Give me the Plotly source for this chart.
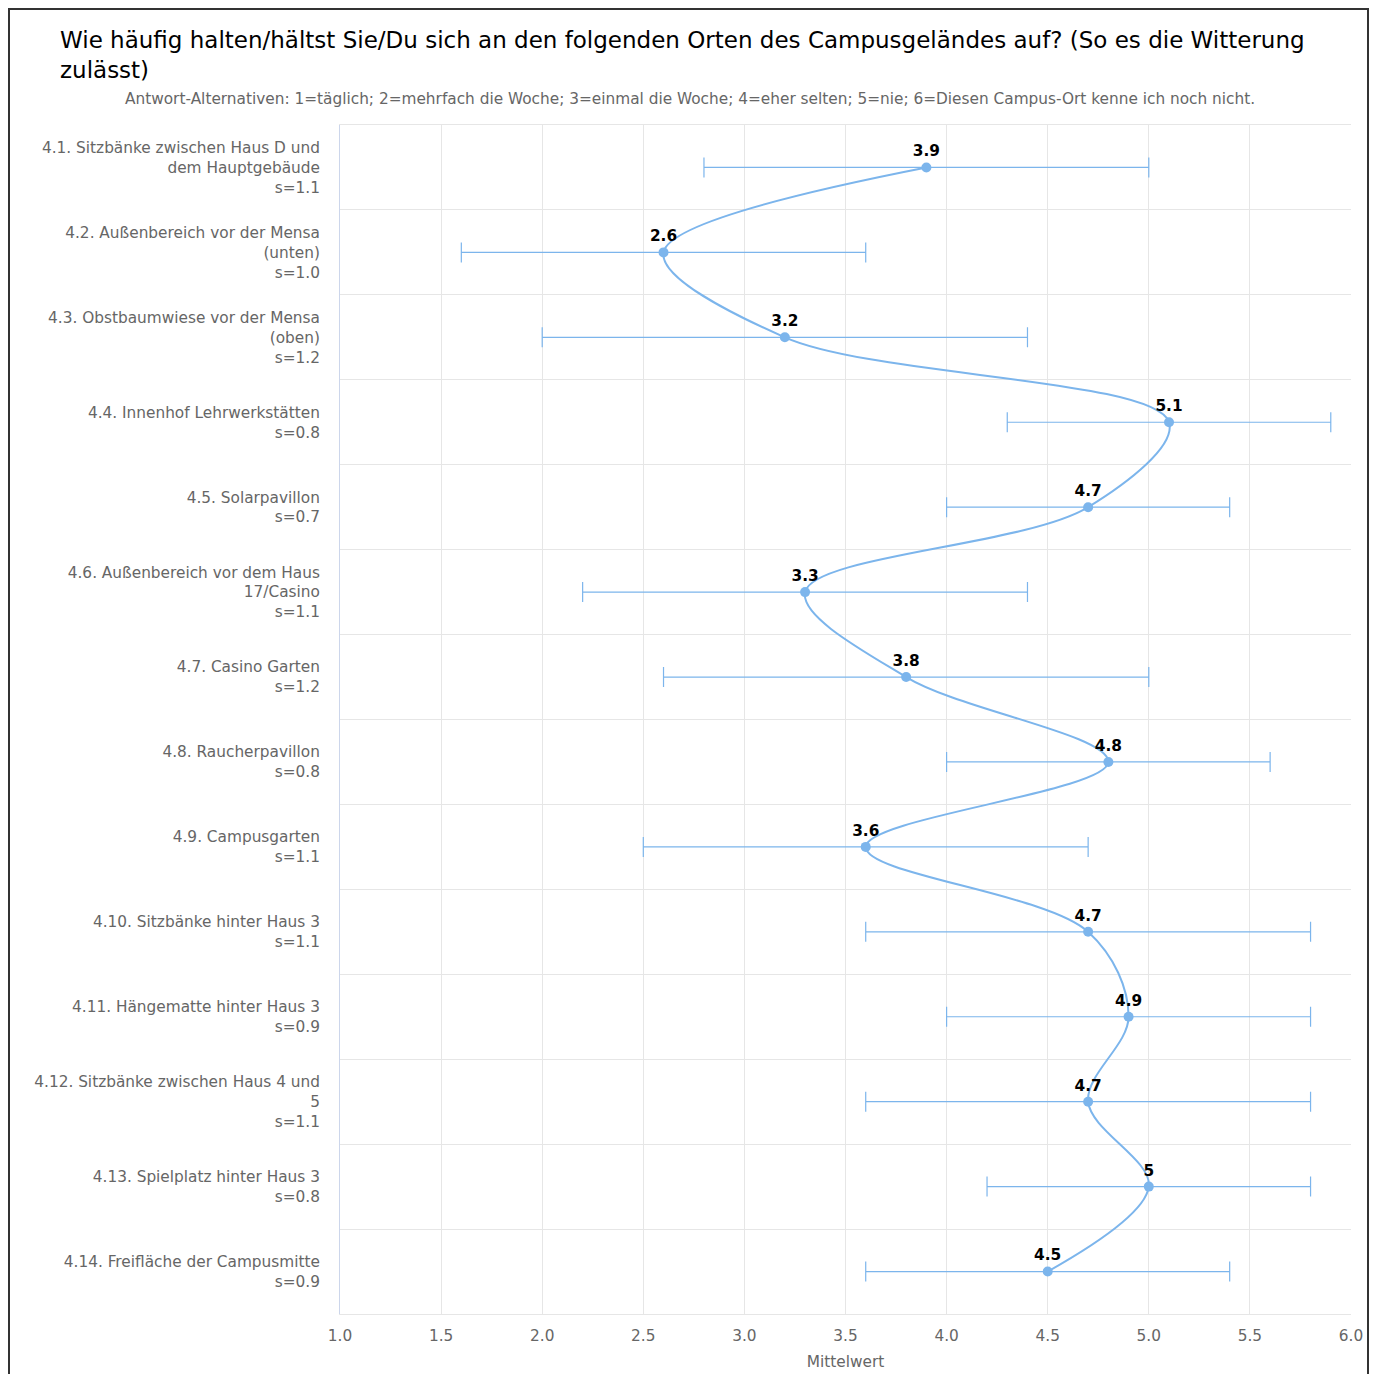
import plotly.graph_objects as go

# Orte (mit Zeilenumbruch wie im Original)
orte = [
    "4.1. Sitzbänke zwischen Haus D und<br>dem Hauptgebäude",
    "4.2. Außenbereich vor der Mensa<br>(unten)",
    "4.3. Obstbaumwiese vor der Mensa<br>(oben)",
    "4.4. Innenhof Lehrwerkstätten",
    "4.5. Solarpavillon",
    "4.6. Außenbereich vor dem Haus<br>17/Casino",
    "4.7. Casino Garten",
    "4.8. Raucherpavillon",
    "4.9. Campusgarten",
    "4.10. Sitzbänke hinter Haus 3",
    "4.11. Hängematte hinter Haus 3",
    "4.12. Sitzbänke zwischen Haus 4 und<br>5",
    "4.13. Spielplatz hinter Haus 3",
    "4.14. Freifläche der Campusmitte",
]
mittelwerte = [3.9, 2.6, 3.2, 5.1, 4.7, 3.3, 3.8, 4.8, 3.6, 4.7, 4.9, 4.7, 5.0, 4.5]
standardabw = [1.1, 1.0, 1.2, 0.8, 0.7, 1.1, 1.2, 0.8, 1.1, 1.1, 0.9, 1.1, 0.8, 0.9]

labels = [f"{o}<br>s={s:.1f}" for o, s in zip(orte, standardabw)]
werte_text = [f"{m:g}" for m in mittelwerte]

farbe = "#7cb5ec"
grau = "#666666"
fs = 15.33  # 11.5pt

# Seite hat 8px Rand -> Figur etwas kleiner
W, H = 1361, 1366
L, T = 332, 117
PW, PH = 1011, 1189

fig = go.Figure()
fig.add_trace(go.Scatter(
    x=mittelwerte,
    y=labels,
    mode="lines+markers+text",
    line=dict(color=farbe, width=2, shape="spline", smoothing=1),
    marker=dict(color=farbe, size=10),
    error_x=dict(type="data", array=standardabw, visible=True,
                 color=farbe, thickness=1.2, width=10),
    text=werte_text,
    textposition="top center",
    textfont=dict(family="DejaVu Sans", size=fs, color="black", weight="bold"),
    showlegend=False,
))

fig.update_layout(
    width=W,
    height=H,
    margin=dict(l=L, r=W - L - PW, t=T, b=H - T - PH),
    paper_bgcolor="white",
    plot_bgcolor="white",
    font=dict(family="DejaVu Sans", size=fs, color=grau),
    title=dict(
        text="Wie häufig halten/hältst Sie/Du sich an den folgenden Orten des Campusgeländes auf? (So es die Witterung<br>zulässt)",
        x=52 / W, xref="container", xanchor="left",
        y=1 - 40 / H, yref="container", yanchor="top",
        font=dict(family="DejaVu Sans", size=23, color="black"),
    ),
    annotations=[dict(
        text="Antwort-Alternativen: 1=täglich; 2=mehrfach die Woche; 3=einmal die Woche; 4=eher selten; 5=nie; 6=Diesen Campus-Ort kenne ich noch nicht.",
        xref="paper", yref="paper", x=(690 - 340) / PW, y=1 + 26 / PH,
        xanchor="center", yanchor="middle", showarrow=False,
        font=dict(family="DejaVu Sans", size=fs, color=grau),
    )],
    shapes=[dict(
        type="rect", xref="paper", yref="paper",
        x0=(1 - L) / PW, x1=(W - 1 - L) / PW,
        y0=-0.2, y1=1 + (T - 1) / PH,
        line=dict(color="#333333", width=2),
    )],
)

fig.update_xaxes(
    range=[1, 6],
    tick0=1, dtick=0.5, tickformat=".1f",
    automargin=False,
    showgrid=True, gridcolor="#e6e6e6", gridwidth=1,
    zeroline=False,
    showline=True, linecolor="#e6e6e6", mirror=True,
    ticks="", ticklabelstandoff=8,
    tickfont=dict(size=fs, color=grau),
    title=dict(text="Mittelwert", font=dict(size=fs, color=grau), standoff=11),
)
fig.update_yaxes(
    type="category",
    range=[len(labels) - 0.5, -0.5],
    automargin=False,
    tickson="boundaries",
    showgrid=True, gridcolor="#e6e6e6", gridwidth=1,
    showline=True, linecolor="#ccd6eb",
    ticks="", ticklabelstandoff=16,
    tickfont=dict(size=fs, color=grau),
)

fig.write_html("out.html")
